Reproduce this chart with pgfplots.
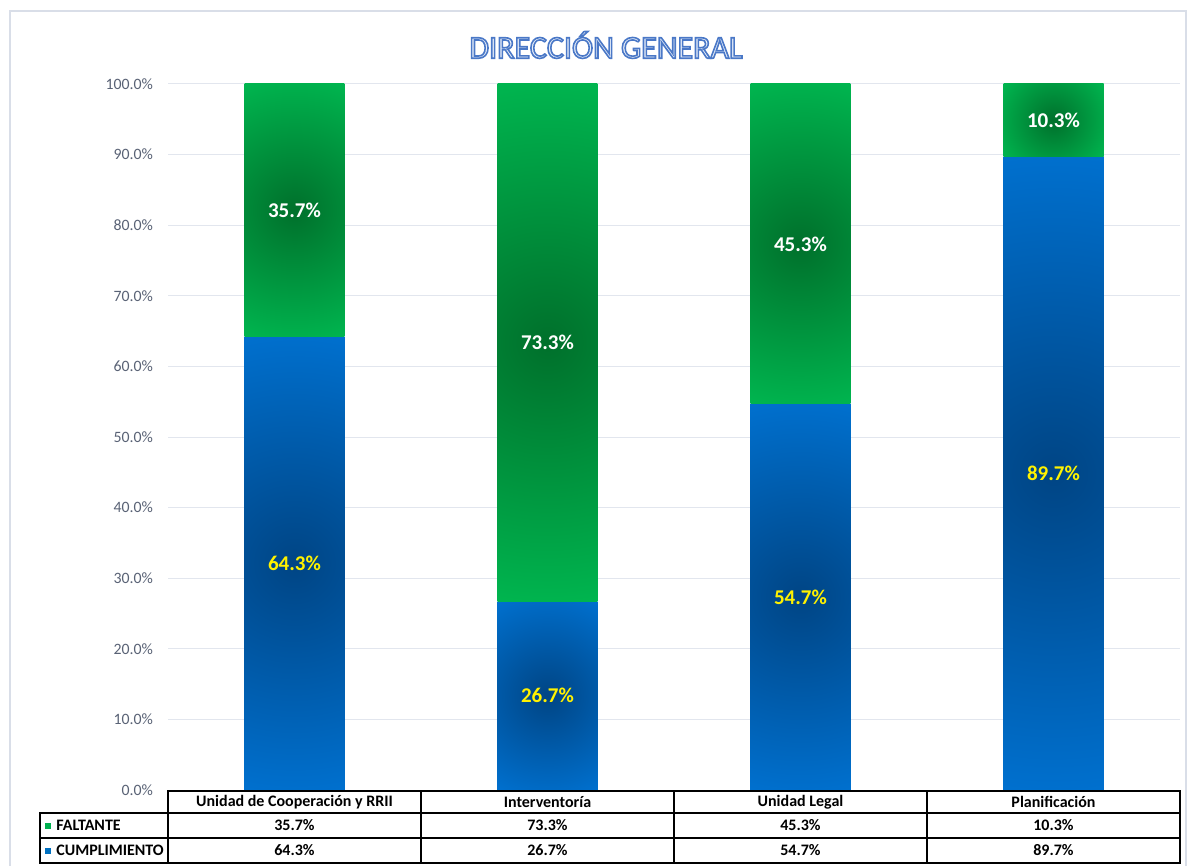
\documentclass[border=0pt]{standalone}
\usepackage{fontspec}
\setmainfont{Carlito}
\usepackage{pgfplots}
\usepackage{pgfplotstable}
\pgfplotsset{compat=1.18}

\definecolor{tickgray}{RGB}{89,98,117}
\definecolor{gridgray}{RGB}{226,230,238}
\definecolor{framegray}{RGB}{217,222,232}
\definecolor{keygreen}{RGB}{0,176,80}
\definecolor{keyblue}{RGB}{0,112,192}
\definecolor{titlefill}{RGB}{236,242,251}

\pgfplotstableread[col sep=comma]{
x,cat,cump,falt
0,Unidad de Cooperación y RRII,64.3,35.7
1,Interventoría,26.7,73.3
2,Unidad Legal,54.7,45.3
3,Planificación,89.7,10.3
}\data

% circular (in page space) gradient from the centre of each bar segment to its corners
\newcommand\mkshade[8]{%
  \pgfmathsetmacro\shh{#2*0.353}% half height in units of 10px
  \pgfmathsetmacro\shd{sqrt(25+\shh*\shh)}%
  \pgfmathsetmacro\sha{0.2/\shd}%
  \pgfmathsetmacro\shb{\shh/(25*\shd)}%
  \edef\shtemp{\noexpand\pgfdeclarefunctionalshading{#1}{\noexpand\pgfpoint{-50bp}{-50bp}}{\noexpand\pgfpoint{50bp}{50bp}}{}{\shb\space mul dup mul exch \sha\space mul dup mul add sqrt dup 1 gt {pop 1} if dup dup #8 mul #7 add 3 1 roll #6 mul #5 add exch #4 mul #3 add 3 1 roll exch}}%
  \shtemp}
\pgfplotsforeachungrouped \i in {0,...,3}{%
  \pgfplotstablegetelem{\i}{cump}\of\data
  \mkshade{shB\i}{\pgfplotsretval}{0}{0}{0.27}{0.17}{0.52}{0.29}%
  \pgfplotstablegetelem{\i}{falt}\of\data
  \mkshade{shG\i}{\pgfplotsretval}{0}{0}{0.44}{0.27}{0.17}{0.14}%
}
% outlined text: fill + stroke render mode
\newcommand\outlined[1]{\special{pdf:literal direct 2 Tr 0.8 w 0.29 0.47 0.78 RG}#1\special{pdf:literal direct 0 Tr}}

\begin{document}
\begin{tikzpicture}[x=0.5pt,y=-0.5pt]
\path[use as bounding box] (0,0) rectangle (1189,866);
\draw[framegray, line width=0.75pt] (10,11) rectangle (1186,900);
\coordinate (axpos) at (168,790);

% title
\node[text=titlefill, font=\fontsize{16}{19}\selectfont] at (606,45) {\outlined{DIRECCIÓN GENERAL}};

\begin{axis}[
  at={(axpos)}, anchor=south west,
  scale only axis, width=506pt, height=353pt,
  xmin=-0.5, xmax=3.5, ymin=0, ymax=100,
  axis line style={draw=none},
  xtick=\empty,
  ytick={0,10,...,100},
  major tick length=0pt,
  /pgf/number format/assume math mode=true,
  yticklabel={\pgfmathprintnumber[fixed,fixed zerofill,precision=1]{\tick}\%},
  yticklabel style={font=\fontsize{7.9}{9}\selectfont, text=tickgray, xshift=-4pt},
  ymajorgrids, grid style={gridgray, line width=0.5pt},
  clip=false,
]
% CUMPLIMIENTO segments
\addplot[draw=none, shade, shading=shB0] coordinates {(-0.1976,0) (0.1976,0) (0.1976,64.3) (-0.1976,64.3)} -- cycle;
\addplot[draw=none, shade, shading=shB1] coordinates {(0.8024,0) (1.1976,0) (1.1976,26.7) (0.8024,26.7)} -- cycle;
\addplot[draw=none, shade, shading=shB2] coordinates {(1.8024,0) (2.1976,0) (2.1976,54.7) (1.8024,54.7)} -- cycle;
\addplot[draw=none, shade, shading=shB3] coordinates {(2.8024,0) (3.1976,0) (3.1976,89.7) (2.8024,89.7)} -- cycle;
% FALTANTE segments
\addplot[draw=none, shade, shading=shG0] coordinates {(-0.1976,64.3) (0.1976,64.3) (0.1976,100) (-0.1976,100)} -- cycle;
\addplot[draw=none, shade, shading=shG1] coordinates {(0.8024,26.7) (1.1976,26.7) (1.1976,100) (0.8024,100)} -- cycle;
\addplot[draw=none, shade, shading=shG2] coordinates {(1.8024,54.7) (2.1976,54.7) (2.1976,100) (1.8024,100)} -- cycle;
\addplot[draw=none, shade, shading=shG3] coordinates {(2.8024,89.7) (3.1976,89.7) (3.1976,100) (2.8024,100)} -- cycle;
% labels
\addplot[draw=none, point meta=explicit,
  nodes near coords={\pgfmathprintnumber[fixed,fixed zerofill,precision=1]{\pgfplotspointmeta}\%},
  every node near coord/.append style={anchor=center, text=yellow, font=\fontsize{10.5}{12}\selectfont\bfseries}]
  table[x=x, y expr=\thisrow{cump}/2, meta=cump] {\data};
\addplot[draw=none, point meta=explicit,
  nodes near coords={\pgfmathprintnumber[fixed,fixed zerofill,precision=1]{\pgfplotspointmeta}\%},
  every node near coord/.append style={anchor=center, text=white, font=\fontsize{10.5}{12}\selectfont\bfseries}]
  table[x=x, y expr=\thisrow{cump}+\thisrow{falt}/2, meta=falt] {\data};
\end{axis}

% data table
\begin{scope}[line width=1pt, black]
\draw (168,791) rectangle (1180,863);
\draw (40,813) rectangle (1180,863);
\draw (40,838) -- (1180,838);
\foreach \xx in {421,674,927} \draw (\xx,791) -- (\xx,863);
\end{scope}
\fill[keygreen] (45,822.5) rectangle (51,828.5);
\fill[keyblue] (45,847.5) rectangle (51,853.5);
\node[anchor=west, font=\fontsize{8}{9}\selectfont\bfseries, inner sep=0pt] at (56,825.5) {FALTANTE};
\node[anchor=west, font=\fontsize{8}{9}\selectfont\bfseries, inner sep=0pt] at (56,850.5) {CUMPLIMIENTO};
\foreach \i in {0,...,3}{
  \pgfplotstablegetelem{\i}{cat}\of\data
  \node[font=\fontsize{8}{9}\selectfont\bfseries] at (294.5+253*\i,802) {\pgfplotsretval};
  \pgfplotstablegetelem{\i}{falt}\of\data
  \node[font=\fontsize{8}{9}\selectfont\bfseries] at (294.5+253*\i,825.5) {\pgfmathprintnumber[fixed,fixed zerofill,precision=1,assume math mode=true]{\pgfplotsretval}\%};
  \pgfplotstablegetelem{\i}{cump}\of\data
  \node[font=\fontsize{8}{9}\selectfont\bfseries] at (294.5+253*\i,850.5) {\pgfmathprintnumber[fixed,fixed zerofill,precision=1,assume math mode=true]{\pgfplotsretval}\%};
}
\end{tikzpicture}
\end{document}
